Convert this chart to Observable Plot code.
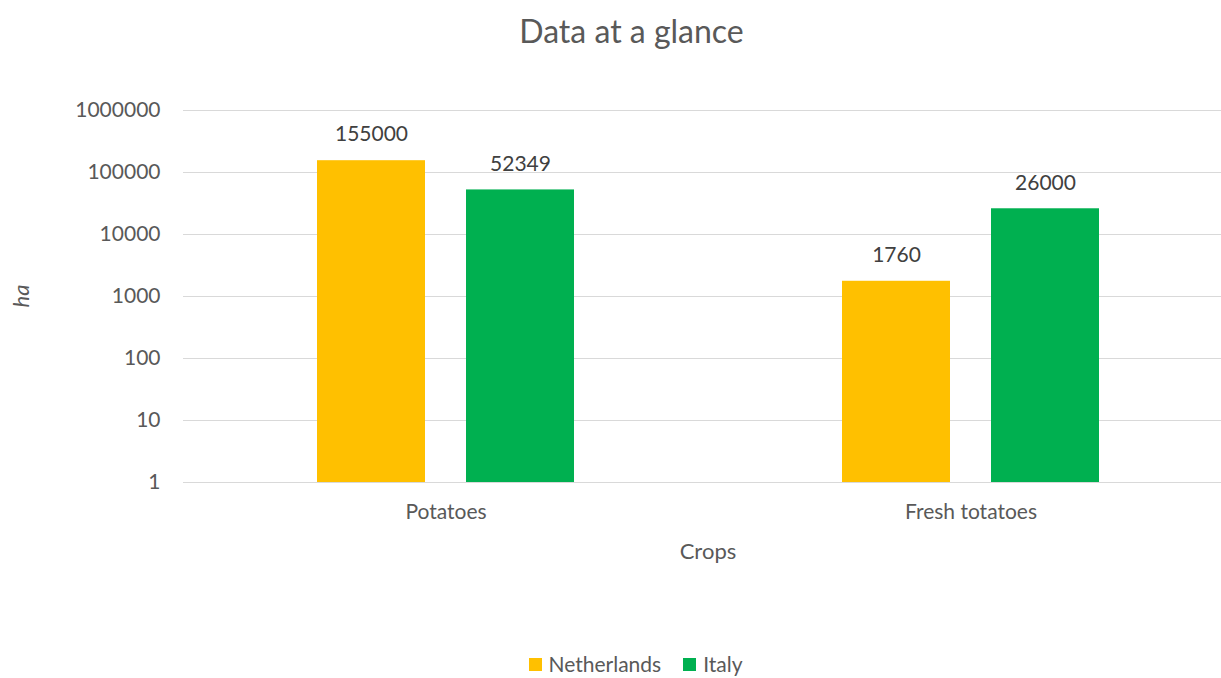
<!DOCTYPE html>
<html>
<head>
<meta charset="utf-8">
<script src="https://cdn.jsdelivr.net/npm/d3@7"></script>
<script src="https://cdn.jsdelivr.net/npm/@observablehq/plot@0.6"></script>
<style>
  html, body { margin: 0; padding: 0; background: #fff; overflow: hidden; }
  body { width: 1221px; height: 678px; position: relative; font-family: Lato, "Open Sans", sans-serif; color: #595959; }
  #title { height: 62px; line-height: 62px; font-size: 32px; text-align: center; padding-left: 42px; box-sizing: border-box; }
  #chart svg { display: block; overflow: hidden; }
  #xlabel { height: 42px; line-height: 42px; font-size: 22px; position: relative; }
  #xlabel span { position: absolute; left: 708px; transform: translateX(-50%); }
  #ylabel { position: absolute; left: 20px; top: 296px; transform: translate(-50%, -50%) rotate(-90deg); font-size: 22px; font-style: italic; }
  #legend { position: absolute; top: 651px; left: 0; width: 1221px; height: 26px; line-height: 26px; display: flex; justify-content: center; align-items: center; padding-left: 50px; box-sizing: border-box; font-size: 21px; gap: 22px; }
  #legend .item { display: flex; align-items: center; gap: 7px; }
  #legend .sw { width: 13px; height: 13px; display: inline-block; }
</style>
</head>
<body>
<div id="title">Data at a glance</div>
<div id="chart"></div>
<div id="xlabel"><span>Crops</span></div>
<div id="ylabel">ha</div>
<div id="legend"></div>
<script>
const crops = ["Potatoes", "Fresh totatoes"];
const countries = ["Netherlands", "Italy"];
const netherlands = [155000, 1760];
const italy = [52349, 26000];
const yTicks = [1, 10, 100, 1000, 10000, 100000, 1000000];
const colors = ["#FFC000", "#00B050"];

const series = { Netherlands: netherlands, Italy: italy };
const data = [];
crops.forEach((c, i) => countries.forEach(k => data.push({ crop: c, country: k, value: series[k][i] })));

const plot = Plot.plot({
  width: 1221,
  height: 468,
  marginTop: 48,
  marginBottom: 48,
  marginLeft: 183,
  marginRight: -12,
  style: { fontFamily: "Lato, 'Open Sans', sans-serif", fontSize: "21px", color: "#595959", background: "white" },
  fx: { domain: crops, padding: 0, axis: "bottom", label: null, tickSize: 0, tickPadding: 22, fontSize: 22 },
  x: { domain: countries, axis: null, paddingInner: 0.275, paddingOuter: 0.899 },
  y: { type: "log", domain: [1, 1000000], ticks: yTicks, tickFormat: d => String(d), tickSize: 0, tickPadding: 23, label: null },
  color: { domain: countries, range: colors },
  marks: [
    Plot.ruleY(yTicks, { stroke: "#d9d9d9", strokeWidth: 1 }),
    Plot.barY(data, { fx: "crop", x: "country", y1: 1, y2: "value", fill: "country" }),
    Plot.text(data, { fx: "crop", x: "country", y: "value", text: d => String(d.value), dy: -26, fill: "#404040", fontSize: 21 })
  ]
});
document.getElementById("chart").appendChild(plot);

const legend = document.getElementById("legend");
countries.forEach((k, i) => {
  const item = document.createElement("div");
  item.className = "item";
  const sw = document.createElement("span");
  sw.className = "sw";
  sw.style.background = colors[i];
  const t = document.createElement("span");
  t.textContent = k;
  item.appendChild(sw);
  item.appendChild(t);
  legend.appendChild(item);
});
</script>
</body>
</html>
